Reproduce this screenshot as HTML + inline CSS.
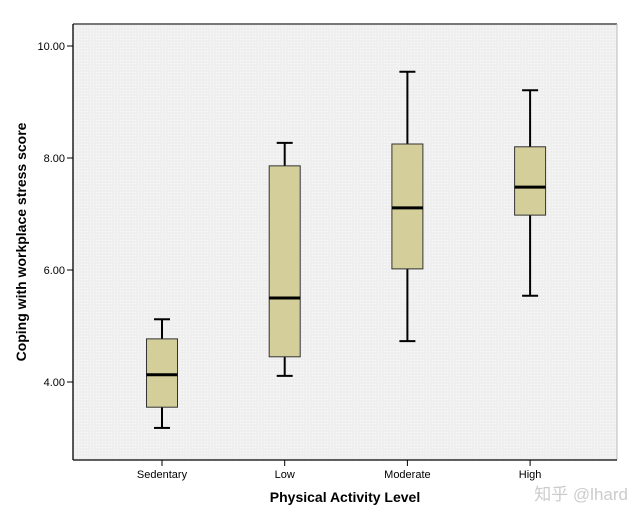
<!DOCTYPE html>
<html><head><meta charset="utf-8"><style>
body{margin:0;background:#fff;}
svg{display:block;font-family:"Liberation Sans",Arial,sans-serif;}
</style></head><body>
<svg id="chart" width="643" height="523">
<defs><pattern id="dots" width="3" height="3" patternUnits="userSpaceOnUse"><rect width="3" height="3" fill="#efefef"/><rect width="1" height="1" fill="#fafafa"/></pattern></defs>
<rect x="73" y="24" width="544" height="436" fill="url(#dots)"/>
<line x1="73" y1="24" x2="617" y2="24" stroke="#777" stroke-width="2"/>
<line x1="617" y1="24" x2="617" y2="460" stroke="#bbb" stroke-width="1"/>
<line x1="73" y1="24" x2="73" y2="460" stroke="#000" stroke-width="1.3"/>
<line x1="73" y1="460" x2="617" y2="460" stroke="#000" stroke-width="1.3"/>
<g id="marks"></g>
<text x="26" y="242" transform="rotate(-90 26 242)" text-anchor="middle" font-size="14" font-weight="bold">Coping with workplace stress score</text>
<text x="345" y="502" text-anchor="middle" font-size="14" font-weight="bold">Physical Activity Level</text>
<text x="628" y="500" text-anchor="end" font-size="17" fill="#ccc">知乎 @lhard</text>
</svg>
<script>
const categories=["Sedentary","Low","Moderate","High"];
const mins=[3.18,4.11,4.73,5.54];
const q1s=[3.55,4.45,6.02,6.98];
const medians=[4.13,5.50,7.11,7.48];
const q3s=[4.77,7.86,8.25,8.20];
const maxs=[5.12,8.27,9.54,9.21];
const yTicks=[4,6,8,10];
const yTickLabels=["4.00","6.00","8.00","10.00"];
const NS="http://www.w3.org/2000/svg";
const g=document.getElementById('marks');
function y(v){return 382-(v-4)*56;}
function x(i){return 162+122.7*i;}
function mk(t,a,p){const e=document.createElementNS(NS,t);for(const k in a)e.setAttribute(k,a[k]);(p||g).appendChild(e);return e;}
yTicks.forEach((v,i)=>{
  const l=mk('line',{x1:67,x2:73,y1:y(v),y2:y(v),stroke:'#000'});
  
  
  const t=mk('text',{x:65,y:y(v)+4,'text-anchor':'end','font-size':11});
  t.textContent=yTickLabels[i];
  
  
});
categories.forEach((c,i)=>{
  const cx=x(i),w=31,cw=16;
  const tk=mk('line',{x1:cx,x2:cx,y1:460,y2:466,stroke:'#000'});
  
  
  const t=mk('text',{x:cx,y:478,'text-anchor':'middle','font-size':11});
  t.textContent=c;
  
  
  const bg=mk('g',{});
  
  
  mk('line',{x1:cx,x2:cx,y1:y(maxs[i]),y2:y(q3s[i]),stroke:'#000','stroke-width':2},bg);
  mk('line',{x1:cx,x2:cx,y1:y(q1s[i]),y2:y(mins[i]),stroke:'#000','stroke-width':2},bg);
  mk('line',{x1:cx-cw/2,x2:cx+cw/2,y1:y(maxs[i]),y2:y(maxs[i]),stroke:'#000','stroke-width':2},bg);
  mk('line',{x1:cx-cw/2,x2:cx+cw/2,y1:y(mins[i]),y2:y(mins[i]),stroke:'#000','stroke-width':2},bg);
  mk('rect',{x:cx-w/2,y:y(q3s[i]),width:w,height:y(q1s[i])-y(q3s[i]),fill:'#d4cf9a',stroke:'#333','stroke-width':1},bg);
  mk('line',{x1:cx-w/2,x2:cx+w/2,y1:y(medians[i]),y2:y(medians[i]),stroke:'#000','stroke-width':3},bg);
});
</script>
</body></html>
